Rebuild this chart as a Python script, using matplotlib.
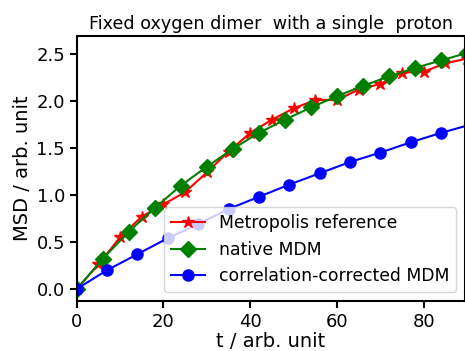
import matplotlib
matplotlib.use("Agg")
import matplotlib.pyplot as plt

t_metro = [0, 5, 10, 15, 20, 25, 30, 35, 40, 45, 50, 55, 60, 65, 70, 75, 80, 85, 90]
msd_metro = [0, 0.26, 0.55, 0.77, 0.90, 1.03, 1.24, 1.46, 1.66, 1.80, 1.92,
             2.01, 2.01, 2.12, 2.18, 2.30, 2.31, 2.40, 2.45]

t_native = [0, 6, 12, 18, 24, 30, 36, 42, 48, 54, 60, 66, 72, 78, 84, 90]
msd_native = [0, 0.32, 0.61, 0.86, 1.10, 1.30, 1.49, 1.66, 1.80, 1.93,
              2.05, 2.16, 2.26, 2.35, 2.43, 2.51]

t_corr = [0, 7, 14, 21, 28, 35, 42, 49, 56, 63, 70, 77, 84, 91]
msd_corr = [0, 0.20, 0.37, 0.54, 0.69, 0.85, 0.98, 1.11, 1.23, 1.35, 1.45,
            1.56, 1.66, 1.75]

fig = plt.figure(figsize=(4.65, 3.51), dpi=100)
ax = fig.add_axes([0.165, 0.1425, 0.835, 0.755])

ax.plot(t_metro, msd_metro, "r*-", markersize=9, linewidth=1.5,
        label="Metropolis reference")
ax.plot(t_native, msd_native, "gD-", markersize=8, linewidth=1.5,
        label="native MDM")
ax.plot(t_corr, msd_corr, "bo-", markersize=8, linewidth=1.5,
        label="correlation-corrected MDM")

ax.set_xlim(0, 89.5)
ax.set_ylim(-0.128, 2.69)
ax.set_xticks([0, 20, 40, 60, 80])
ax.set_yticks([0.0, 0.5, 1.0, 1.5, 2.0, 2.5])
ax.tick_params(labelsize=13, width=1.5, length=5)
for s in ax.spines.values():
    s.set_linewidth(1.5)

ax.set_xlabel("t / arb. unit", fontsize=14, labelpad=1)
ax.set_ylabel("MSD / arb. unit", fontsize=14, labelpad=3)
ax.set_title("Fixed oxygen dimer  with a single  proton", fontsize=12.6, pad=5)
ax.legend(loc="lower right", fontsize=12.4)

fig.savefig("out.png", dpi=100)
plt.close()
